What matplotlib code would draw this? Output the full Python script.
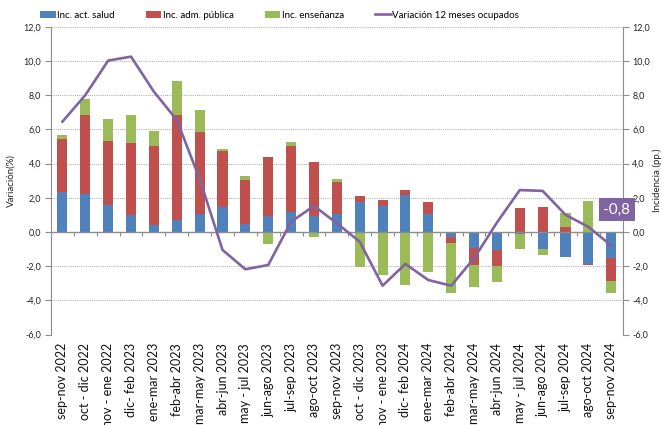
import matplotlib
matplotlib.use("Agg")
import matplotlib.pyplot as plt
import numpy as np
from matplotlib.ticker import FuncFormatter, MultipleLocator
from matplotlib.patches import Patch
from matplotlib.lines import Line2D

plt.rcParams['font.family'] = ['Lato', 'DejaVu Sans']

categories = ["sep-nov 2022", "oct - dic 2022", "nov - ene 2022", "dic- feb 2023",
              "ene-mar 2023", "feb-abr 2023", "mar-may 2023", "abr-jun 2023",
              "may - jul 2023", "jun-ago 2023", "jul-sep 2023", "ago-oct 2023",
              "sep-nov 2023", "oct - dic 2023", "nov - ene 2023", "dic- feb 2024",
              "ene-mar 2024", "feb-abr 2024", "mar-may 2024", "abr-jun 2024",
              "may - jul 2024", "jun-ago 2024", "jul-sep 2024", "ago-oct 2024",
              "sep-nov 2024"]

salud = [2.34, 2.22, 1.58, 0.97, 0.39, 0.70, 1.03, 1.44, 0.49, 0.94, 1.17, 0.94,
         1.03, 1.73, 1.50, 2.14, 1.03, -0.29, -0.94, -1.05, -0.10, -0.97, -1.44,
         -1.87, -1.52]
adm_publica = [3.12, 4.64, 3.74, 4.25, 4.66, 6.16, 4.82, 3.32, 2.55, 3.45, 3.86,
               3.17, 1.89, 0.37, 0.37, 0.32, 0.74, -0.35, -0.97, -0.96, 1.38,
               1.48, 0.29, -0.08, -1.36]
ensenanza = [0.19, 0.94, 1.31, 1.64, 0.88, 1.97, 1.28, 0.09, 0.23, -0.72, 0.23,
             -0.27, 0.16, -2.03, -2.51, -3.10, -2.36, -2.95, -1.33, -0.91, -0.87,
             -0.38, 0.80, 1.79, -0.67]
variacion = [6.45, 8.0, 10.02, 10.25, 8.2, 6.55, 3.1, -1.05, -2.18, -1.93, 0.6,
             1.52, 0.51, -0.57, -3.14, -1.87, -2.81, -3.14, -1.54, 0.55, 2.45,
             2.4, 1.0, 0.3, -0.8]

series_names = ["Inc. act. salud", "Inc. adm. pública", "Inc. enseñanza"]
line_name = "Variación 12 meses ocupados"
colors = ["#4F81BD", "#C0504D", "#9BBB59"]
line_color = "#8064A2"

fig = plt.figure(figsize=(6.62, 4.25), dpi=100)
fig.subplots_adjust(left=51/662, right=622.7/662, top=1-26.7/425, bottom=1-334.6/425)
ax = fig.add_subplot(111)

x = np.arange(len(categories))
pos_base = np.zeros(len(x))
neg_base = np.zeros(len(x))
for vals, c in zip([salud, adm_publica, ensenanza], colors):
    v = np.array(vals)
    bottoms = np.where(v >= 0, pos_base, neg_base)
    ax.bar(x, v, bottom=bottoms, width=0.44, color=c, zorder=3)
    pos_base = pos_base + np.where(v >= 0, v, 0)
    neg_base = neg_base + np.where(v < 0, v, 0)

fmt = FuncFormatter(lambda v, p: f"{v:.1f}".replace('.', ','))
ax.set_ylim(-6, 12)
ax.set_xlim(-0.5, len(x) - 0.5)
ax.yaxis.set_major_locator(MultipleLocator(2))
ax.yaxis.set_major_formatter(fmt)
ax.grid(axis='y', linestyle=(0, (1.0, 1.2)), color='#a6a6a6', linewidth=0.7, zorder=0)
ax.set_axisbelow(True)
for s in ['top', 'bottom']:
    ax.spines[s].set_visible(False)
ax.spines['left'].set_color('#8c8c8c')
ax.spines['right'].set_visible(False)
ax.tick_params(axis='y', length=4, color='#8c8c8c', labelsize=6.5, pad=3, labelcolor='#222222')
ax.set_xticks(x)
ax.set_xticklabels(categories, rotation=90, fontsize=9, va='top', ha='center')
ax.tick_params(axis='x', length=0, pad=6, labelcolor='#111111')
ax.set_ylabel("Variación(%)", fontsize=7, labelpad=6, color='#222222')

# category axis at zero with boundary tick marks
ax.axhline(0, color='#8c8c8c', linewidth=1, zorder=4)
bounds = np.arange(len(x) + 1) - 0.5
ax.vlines(bounds[1:-1], -0.25, 0, color='#8c8c8c', linewidth=0.8, zorder=4)

ax2 = ax.twinx()
ax2.set_ylim(-6, 12)
ax2.yaxis.set_major_locator(MultipleLocator(2))
ax2.yaxis.set_major_formatter(fmt)
for s in ['top', 'bottom', 'left']:
    ax2.spines[s].set_visible(False)
ax2.spines['right'].set_color('#8c8c8c')
ax2.tick_params(axis='y', length=4, color='#8c8c8c', labelsize=6.5, pad=3, labelcolor='#222222')
ax2.set_ylabel("Incidencia (pp.)", fontsize=7, labelpad=2, color='#222222')
ax2.plot(x, variacion, color=line_color, linewidth=1.9, zorder=5)

ax2.annotate(f"{variacion[-1]:.1f}".replace('.', ','), xy=(x[-1], variacion[-1]),
             xytext=(4, 26), textcoords='offset points', ha='center', va='center',
             color='white', fontsize=11,
             bbox=dict(boxstyle='square,pad=0.3', fc=line_color, ec='none'),
             annotation_clip=False, zorder=6)

handles = [Patch(facecolor=c) for c in colors] + [Line2D([0], [0], color=line_color, linewidth=1.9)]
fig.legend(handles, series_names + [line_name], loc='center left',
           bbox_to_anchor=(40/662, 1-15/425), ncol=4, frameon=False, fontsize=7,
           handlelength=1.6, handletextpad=0.15, columnspacing=3.2,
           borderpad=0, borderaxespad=0)

fig.savefig("out.png", dpi=100)
